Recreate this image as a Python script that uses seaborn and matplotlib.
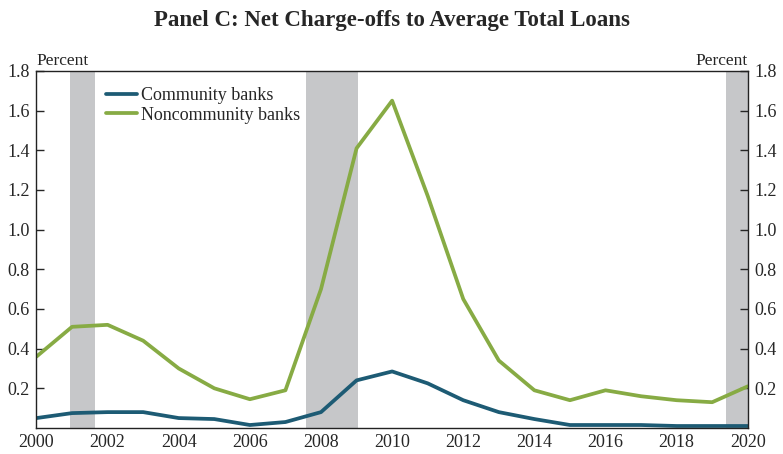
import numpy as np
import pandas as pd
import matplotlib
matplotlib.use('Agg')
import matplotlib.pyplot as plt
import seaborn as sns

# Values (percent)
years = list(range(2000, 2021))
community = [0.05, 0.075, 0.08, 0.08, 0.05, 0.045, 0.015, 0.03, 0.08, 0.24, 0.285,
             0.225, 0.14, 0.08, 0.045, 0.015, 0.015, 0.015, 0.01, 0.01, 0.01]
noncommunity = [0.36, 0.51, 0.52, 0.44, 0.30, 0.20, 0.145, 0.19, 0.70, 1.41, 1.65,
                1.17, 0.65, 0.34, 0.19, 0.14, 0.19, 0.16, 0.14, 0.13, 0.21]
recessions = [(2000.94, 2001.64), (2007.58, 2009.04), (2019.4, 2020.0)]
y_ticks = [0.2, 0.4, 0.6, 0.8, 1.0, 1.2, 1.4, 1.6, 1.8]
x_ticks = list(range(2000, 2021, 2))

df = pd.DataFrame({
    'year': years * 2,
    'value': community + noncommunity,
    'series': ['Community banks'] * len(years) + ['Noncommunity banks'] * len(years),
})

sns.set_style('white')
plt.rcParams['font.family'] = ['Liberation Serif', 'DejaVu Serif']

fig = plt.figure(figsize=(7.83, 4.54), dpi=100)
ax = fig.add_axes([0.0466, 0.0573, 0.9084, 0.7865])

for a, b in recessions:
    ax.axvspan(a, b, color='#c6c7c9', lw=0, zorder=0)

sns.lineplot(data=df, x='year', y='value', hue='series',
             palette=['#1d5b74', '#87ab44'], linewidth=2.7, ax=ax, legend=True)

ax.set_xlim(2000, 2020)
ax.set_ylim(0, 1.8)
ax.set_xticks(x_ticks)
ax.set_yticks(y_ticks)
ax.set_yticklabels([f'{v:.1f}' for v in y_ticks])
ax.set_xlabel('')
ax.set_ylabel('')

for s in ax.spines.values():
    s.set_color('#222222')
    s.set_linewidth(1.0)

ax.tick_params(axis='x', direction='in', length=6, width=1, labelsize=13, pad=4)
ax.tick_params(axis='y', direction='in', length=6, width=1, labelsize=13,
               left=True, right=True, labelleft=True, labelright=True, pad=5)

leg = ax.legend(loc='upper left', bbox_to_anchor=(0.088, 0.975), frameon=False,
                fontsize=13, handlelength=1.7, handletextpad=0.2,
                labelspacing=0.15, borderaxespad=0)

ax.text(0.0, 1.005, 'Percent', transform=ax.transAxes, ha='left', va='bottom', fontsize=12.5)
ax.text(1.0, 1.005, 'Percent', transform=ax.transAxes, ha='right', va='bottom', fontsize=12.5)

fig.text(0.5, 0.955, 'Panel C: Net Charge-offs to Average Total Loans',
         ha='center', va='center', fontsize=16.5, fontweight='bold')

fig.savefig('out.png', dpi=100)
